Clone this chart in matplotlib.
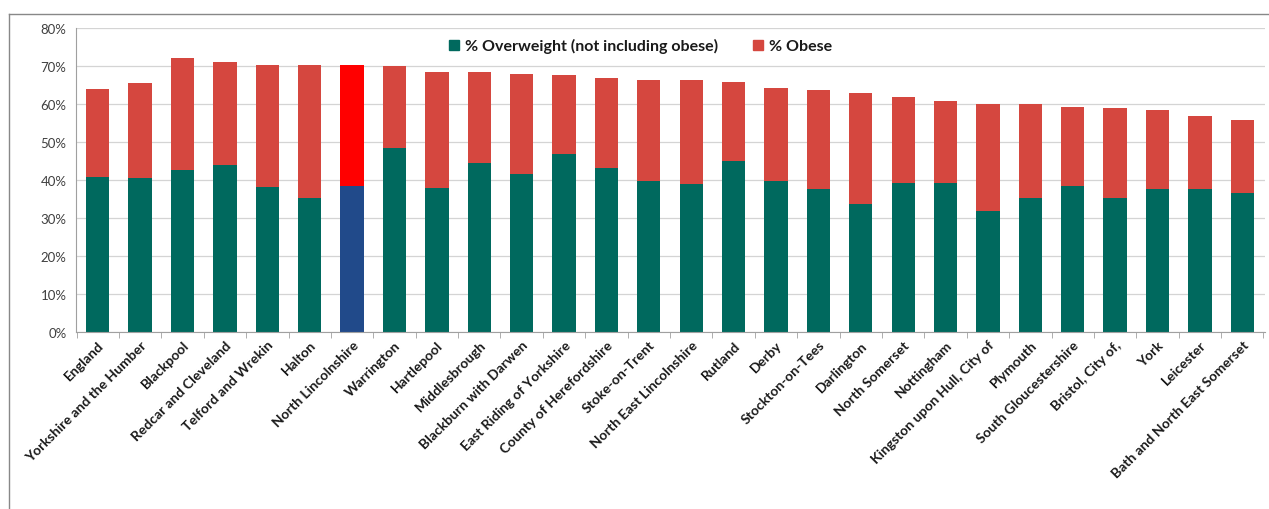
import matplotlib.pyplot as plt
from matplotlib.lines import Line2D
import numpy as np

plt.rcParams['font.family'] = ['Lato', 'DejaVu Sans']

areas = ["England", "Yorkshire and the Humber", "Blackpool", "Redcar and Cleveland",
         "Telford and Wrekin", "Halton", "North Lincolnshire", "Warrington", "Hartlepool",
         "Middlesbrough", "Blackburn with Darwen", "East Riding of Yorkshire",
         "County of Herefordshire", "Stoke-on-Trent", "North East Lincolnshire", "Rutland",
         "Derby", "Stockton-on-Tees", "Darlington", "North Somerset", "Nottingham",
         "Kingston upon Hull, City of", "Plymouth", "South Gloucestershire", "Bristol, City of,",
         "York", "Leicester", "Bath and North East Somerset"]

# % overweight (not obese) and total (overweight + obese)
overweight = [40.8, 40.4, 42.6, 43.7, 38.0, 35.2, 38.2, 48.3, 37.8, 44.3, 41.5, 46.8,
              43.1, 39.7, 38.8, 44.8, 39.7, 37.5, 33.6, 39.2, 39.0, 31.7, 35.1, 38.2,
              35.1, 37.6, 37.4, 36.4]
total = [63.8, 65.5, 72.0, 71.0, 70.2, 70.2, 70.2, 70.0, 68.4, 68.4, 67.7, 67.5,
         66.8, 66.3, 66.1, 65.6, 64.1, 63.6, 62.8, 61.8, 60.6, 60.0, 59.9, 59.2,
         58.9, 58.2, 56.8, 55.6]
obese = [t - o for t, o in zip(total, overweight)]

highlight = "North Lincolnshire"

teal = "#00695e"
red = "#d5473f"
hi_blue = "#214a8a"
hi_red = "#ff0000"

fig = plt.figure(figsize=(12.69, 5.10), dpi=100)
ax = fig.add_axes([0.060, 0.348, 0.937, 0.596])

x = np.arange(len(areas))
ow_colors = [hi_blue if a == highlight else teal for a in areas]
ob_colors = [hi_red if a == highlight else red for a in areas]

ax.bar(x, overweight, width=0.55, color=ow_colors, zorder=2)
ax.bar(x, obese, width=0.55, bottom=overweight, color=ob_colors, zorder=2)

ax.set_ylim(0, 80)
ax.set_xlim(-0.51, len(areas) - 0.46)
ax.set_yticks(np.arange(0, 81, 10))
ax.set_yticklabels([f"{v}%" for v in range(0, 81, 10)], fontsize=9.5, color="#404040")
ax.yaxis.grid(True, color="#d4d4d4", linewidth=0.9, zorder=0)
ax.tick_params(axis='y', length=0, pad=7)

# category labels
ax.set_xticks(x)
ax.set_xticklabels(areas, rotation=45, ha='right', va='top', rotation_mode='anchor',
                   fontsize=10, fontweight='bold', color="#1a1a1a")
ax.tick_params(axis='x', length=0, pad=5)
# small boundary ticks between categories
ax.set_xticks(np.arange(-0.5, len(areas), 1), minor=True)
ax.tick_params(axis='x', which='minor', length=4, color="#a0a0a0")

for s in ['top', 'right']:
    ax.spines[s].set_visible(False)
ax.spines['left'].set_color("#a0a0a0")
ax.spines['bottom'].set_color("#a0a0a0")

handles = [Line2D([], [], marker='s', linestyle='none', color=teal, markersize=7),
           Line2D([], [], marker='s', linestyle='none', color=red, markersize=7)]
leg = ax.legend(handles, ["% Overweight (not including obese)", "% Obese"],
                loc='center', bbox_to_anchor=(0.474, 0.94), ncol=2, frameon=False,
                prop={'weight': 'bold', 'size': 11.5}, handlelength=0.8,
                handletextpad=0.3, columnspacing=2.1)
for t in leg.get_texts():
    t.set_color("#1a1a1a")

# outer chart frame
fig.add_artist(Line2D([9 / 1269, 1.0], [1 - 15 / 510, 1 - 15 / 510], color="#888888", linewidth=1))
fig.add_artist(Line2D([9 / 1269, 9 / 1269], [0, 1 - 15 / 510], color="#888888", linewidth=1))

fig.savefig("out.png", dpi=100)
